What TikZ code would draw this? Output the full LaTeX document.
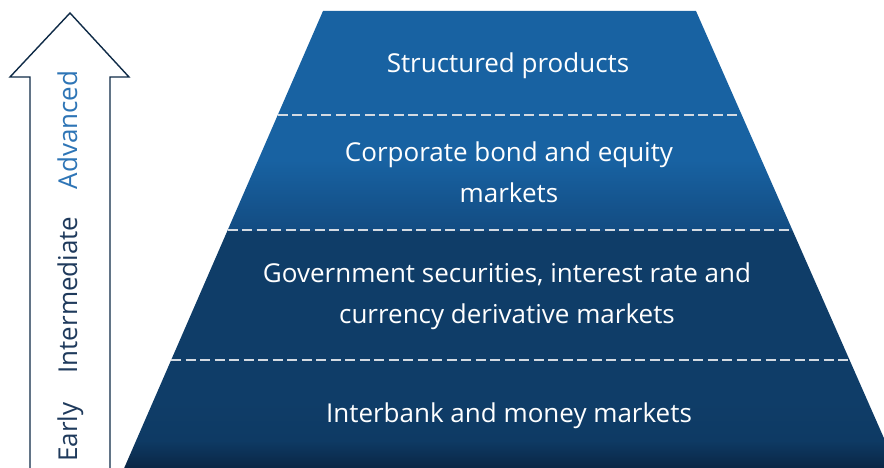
\documentclass[tikz,border=0pt]{standalone}
\usepackage{fontspec}
\setmainfont{Open Sans}
\usetikzlibrary{calc}

\definecolor{pyrTop}{HTML}{1862A2}
\definecolor{pyrMidA}{HTML}{134C82}
\definecolor{pyrMidB}{HTML}{0F3D68}
\definecolor{pyrLow}{HTML}{0E3A64}
\definecolor{pyrBottom}{HTML}{0A2645}
\definecolor{arrowLine}{HTML}{0F2B47}
\definecolor{stageDark}{HTML}{1F3A5C}
\definecolor{stageBlue}{HTML}{2E75B6}
\definecolor{dashLine}{HTML}{D3DAE2}

% vertical colour ramp of the pyramid (25bp = base, 75bp = apex)
\pgfdeclareverticalshading{pyramidramp}{100bp}{%
  color(0bp)=(pyrBottom);
  color(25bp)=(pyrBottom);
  color(28bp)=(pyrLow);
  color(32.4bp)=(pyrMidB);
  color(50.9bp)=(pyrMidB);
  color(51.1bp)=(pyrMidA);
  color(58.7bp)=(pyrTop);
  color(75bp)=(pyrTop);
  color(100bp)=(pyrTop)}

\tikzset{
  layertext/.style={text=white, font=\fontsize{26}{40.5}\selectfont, align=center, anchor=base},
  stagetext/.style={font=\fontsize{26}{30}\selectfont, rotate=90, anchor=base},
  divider/.style={draw=dashLine, line width=1.3pt, dash pattern=on 10pt off 4.5pt},
  stagearrow/.style={draw=arrowLine, line width=1.4pt, fill=white, line join=miter}
}

\begin{document}
\begin{tikzpicture}[x=1pt,y=-1pt]
  \useasboundingbox (0,0) rectangle (884,468);

  % pyramid outline
  \coordinate (TL) at (323,11);
  \coordinate (TR) at (696,11);
  \coordinate (BL) at (124.2,468);
  \coordinate (BR) at (897.1,468);
  \path[shading=pyramidramp] (TL) -- (TR) -- (BR) -- (BL) -- cycle;

  % layer dividers
  \foreach \yy/\nm in {115/a,230/b,360/c}{
    \coordinate (L\nm) at ($(TL)!{(\yy-11)/457}!(BL)$);
    \coordinate (R\nm) at ($(TR)!{(\yy-11)/457}!(BR)$);
    \draw[divider] (L\nm) -- (R\nm);
  }

  % layer labels (base anchor = baseline of the last line)
  \node[layertext] (structured) at (508,73) {Structured products};
  \node[layertext] (corporate) at (509,202) {Corporate bond and equity\\markets};
  \node[layertext] (government) at (507,323) {Government securities, interest rate and\\currency derivative markets};
  \node[layertext] (interbank) at (509,422) {Interbank and money markets};

  % maturity arrow
  \coordinate (shaftL) at (30,472);
  \coordinate (shaftR) at (110,472);
  \coordinate (tip) at (70,13);
  \draw[stagearrow] (shaftL) -- (30,77) -- (10,77) -- (tip) -- (129,77) -- (110,77) -- (shaftR);

  \node[stagetext, text=stageDark] (early) at (77,432) {Early};
  \node[stagetext, text=stageDark] (intermediate) at (77,295) {Intermediate};
  \node[stagetext, text=stageBlue] (advanced) at (77,130) {Advanced};
\end{tikzpicture}
\end{document}
